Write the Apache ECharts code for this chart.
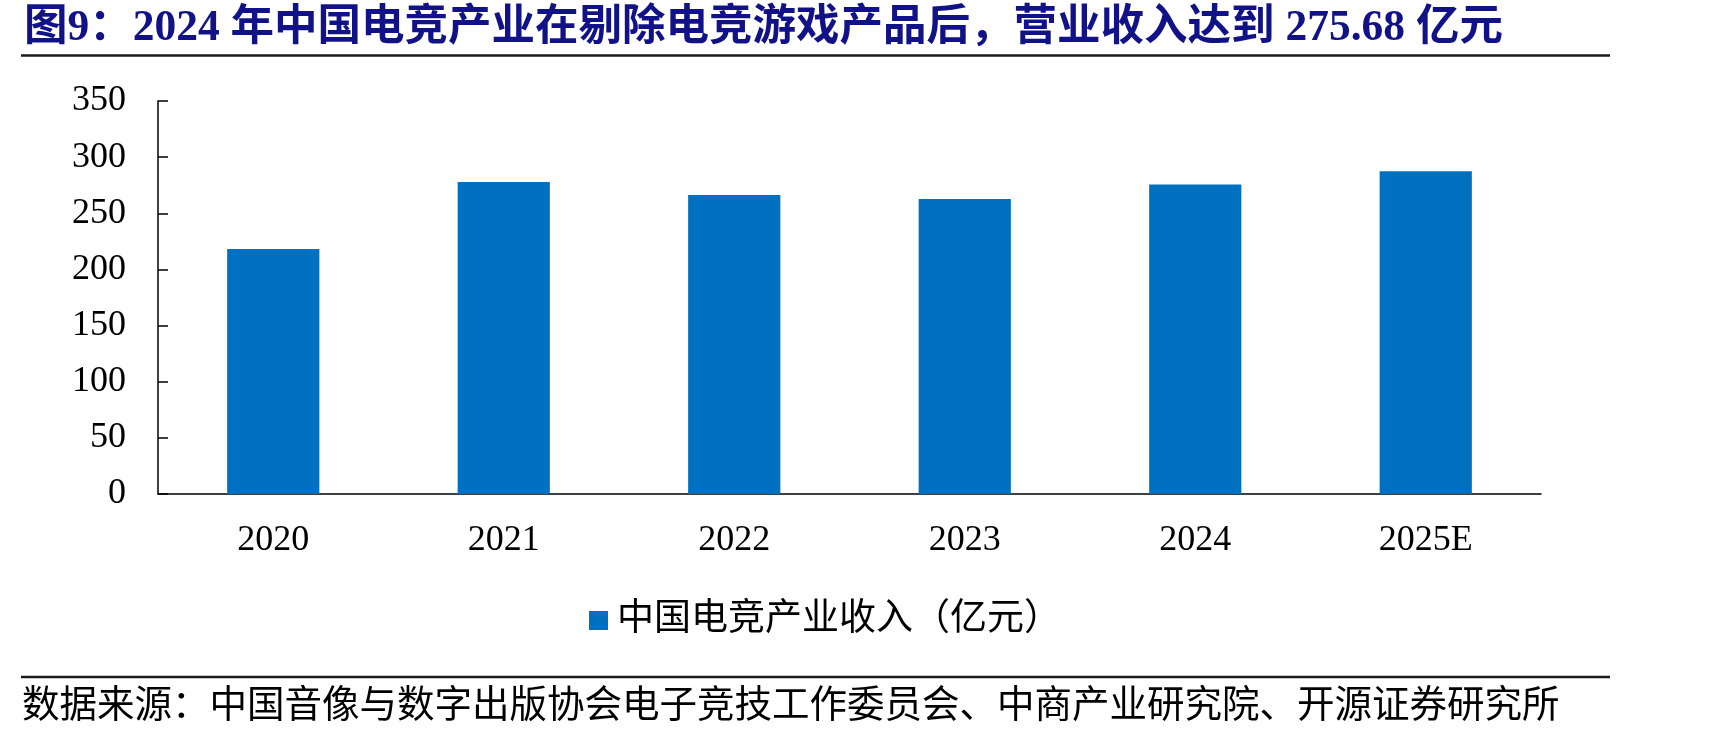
<!DOCTYPE html>
<html>
<head>
<meta charset="utf-8">
<title>中国电竞产业收入</title>
<script src="https://cdn.jsdelivr.net/npm/echarts@6/dist/echarts.min.js"></script>
<style>
  html, body { margin: 0; padding: 0; background: #fff; }
  #chart { width: 1735px; height: 737px; }
</style>
</head>
<body>
<div id="chart"></div>
<script>
// 数据
var years = ['2020', '2021', '2022', '2023', '2024', '2025E'];
var revenue = [218.3, 277.9, 266.3, 262.7, 275.68, 287.4];
var seriesName = '中国电竞产业收入（亿元）';
var titleText = '图9：2024 年中国电竞产业在剔除电竞游戏产品后，营业收入达到 275.68 亿元';
var sourceText = '数据来源：中国音像与数字出版协会电子竞技工作委员会、中商产业研究院、开源证券研究所';

var serif = "'Liberation Serif', 'Noto Sans CJK SC', serif";
var chart = echarts.init(document.getElementById('chart'));

var option = {
    animation: false,
    backgroundColor: '#fff',
    title: [
        {
            text: titleText, left: 24, top: 7, padding: 0,
            textStyle: { fontFamily: serif, fontSize: 43.5, fontWeight: 'bold', color: '#111188' }
        },
        {
            text: sourceText, left: 22, top: 688, padding: 0,
            textStyle: { fontFamily: serif, fontSize: 37.5, fontWeight: 'normal', color: '#000' }
        }
    ],
    graphic: [
        { type: 'line', shape: { x1: 21, y1: 55.5, x2: 1610, y2: 55.5 }, style: { stroke: '#1a1a1a', lineWidth: 2.5 } },
        { type: 'line', shape: { x1: 21, y1: 677, x2: 1610, y2: 677 }, style: { stroke: '#1a1a1a', lineWidth: 2.5 } }
    ],
    legend: {
        data: [seriesName],
        left: 584, top: 597,
        icon: 'rect', itemWidth: 19, itemHeight: 19,
        textStyle: { fontFamily: serif, fontSize: 37, color: '#000', padding: [0, 0, 0, 4] }
    },
    grid: { left: 158, right: 194, top: 101, bottom: 243, containLabel: false },
    xAxis: {
        type: 'category',
        data: years,
        axisLine: { lineStyle: { color: '#000', width: 1.5 } },
        axisTick: { inside: true, length: 10, lineStyle: { color: '#000', width: 1.5 } },
        axisLabel: { margin: 29, fontFamily: serif, fontSize: 36, color: '#000' }
    },
    yAxis: {
        type: 'value',
        min: 0, max: 350, interval: 50,
        axisLine: { show: true, lineStyle: { color: '#000', width: 1.5 } },
        axisTick: { show: true, inside: true, length: 10, lineStyle: { color: '#000', width: 1.5 } },
        axisLabel: { margin: 32, fontFamily: serif, fontSize: 36, color: '#000' },
        splitLine: { show: false }
    },
    series: [{
        type: 'bar',
        name: seriesName,
        data: revenue,
        barWidth: '40%',
        itemStyle: { color: '#0070C0' }
    }]
};

chart.setOption(option);
</script>
</body>
</html>
